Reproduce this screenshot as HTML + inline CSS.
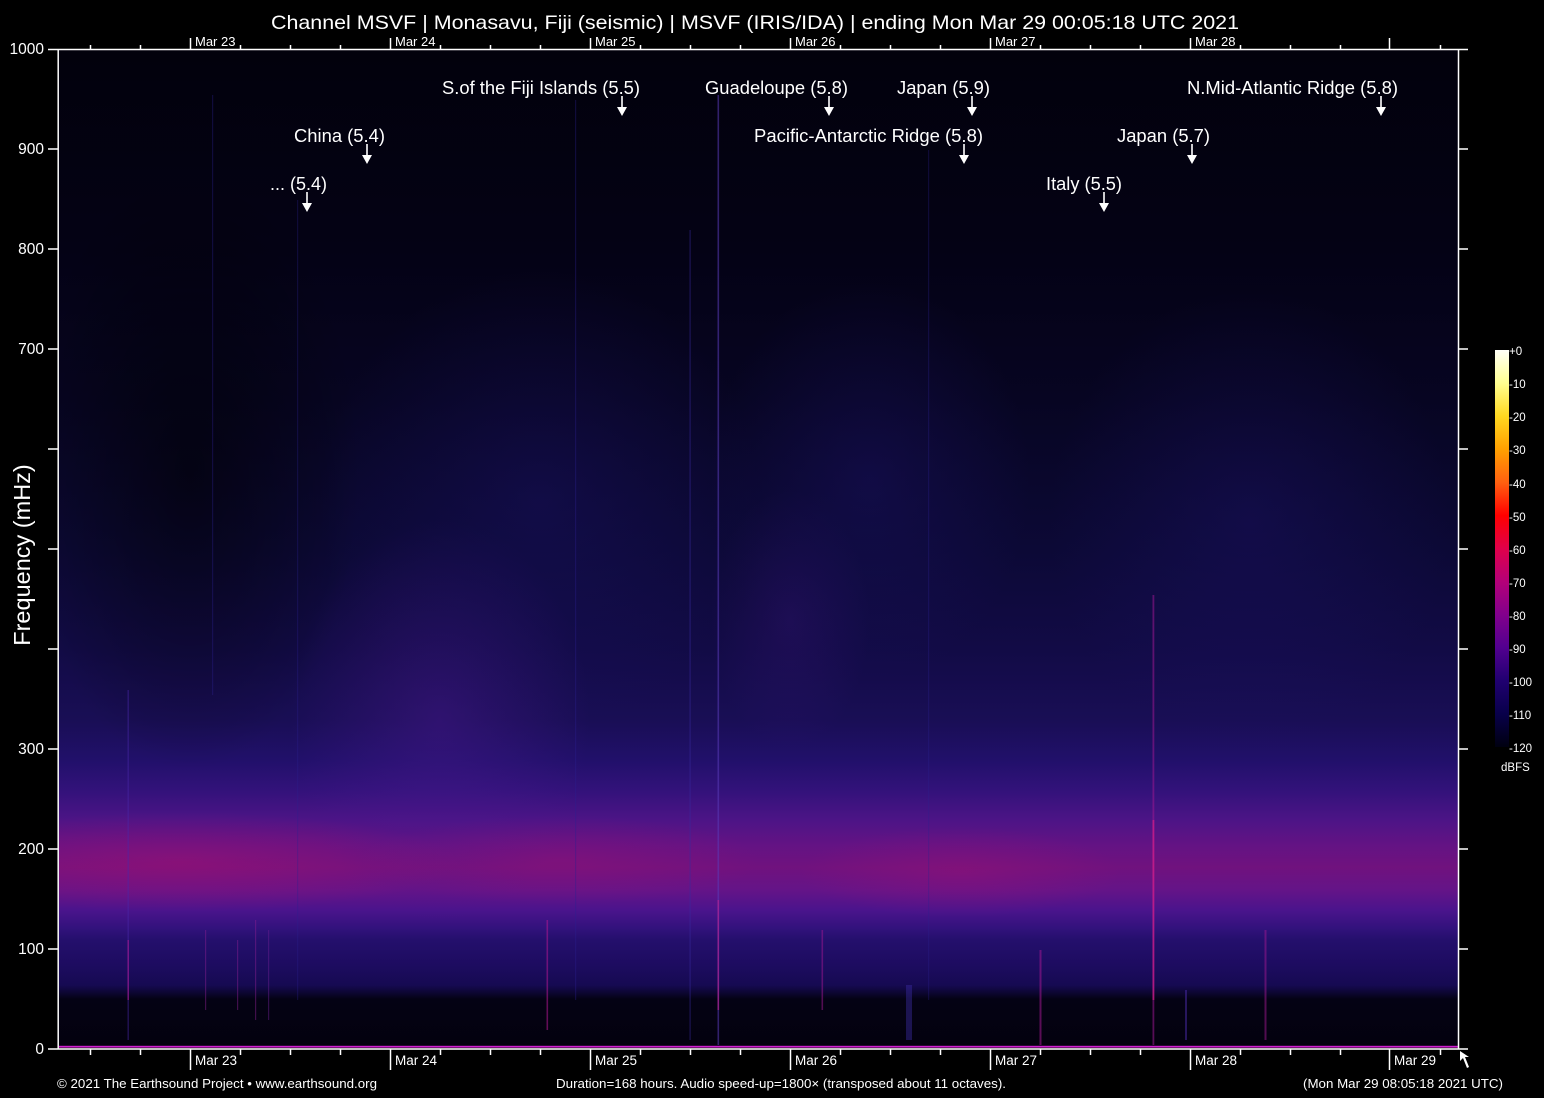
<!DOCTYPE html>
<html><head><meta charset="utf-8"><style>
html,body{margin:0;padding:0;background:#000;}
svg{display:block;}
text{font-family:"Liberation Sans",Arial,sans-serif;fill:#fff;}
</style></head><body>
<svg width="1544" height="1098" viewBox="0 0 1544 1098" xmlns="http://www.w3.org/2000/svg">
<defs>
<clipPath id="pc"><rect x="59" y="50" width="1399" height="998"/></clipPath>
<linearGradient id="bg" x1="0" y1="0" x2="0" y2="1">
<stop offset="0" stop-color="#02010c"/>
<stop offset="0.2" stop-color="#040215"/>
<stop offset="0.351" stop-color="#070522"/>
<stop offset="0.5015" stop-color="#0c0936"/>
<stop offset="0.602" stop-color="#120b46"/>
<stop offset="0.672" stop-color="#190e55"/>
<stop offset="0.712" stop-color="#21106a"/>
<stop offset="0.742" stop-color="#32127a"/>
<stop offset="0.772" stop-color="#4c1486"/>
<stop offset="0.797" stop-color="#631384"/>
<stop offset="0.82" stop-color="#70127e"/>
<stop offset="0.843" stop-color="#641488"/>
<stop offset="0.863" stop-color="#4a148c"/>
<stop offset="0.881" stop-color="#32127c"/>
<stop offset="0.893" stop-color="#240f6c"/>
<stop offset="0.918" stop-color="#1d0c60"/>
<stop offset="0.938" stop-color="#160a52"/>
<stop offset="0.946" stop-color="#0c0630"/>
<stop offset="0.952" stop-color="#040214"/>
<stop offset="1" stop-color="#03010e"/>
</linearGradient>
<radialGradient id="dark"><stop offset="0" stop-color="#000" stop-opacity="0.55"/><stop offset="1" stop-color="#000" stop-opacity="0"/></radialGradient>
<radialGradient id="plume"><stop offset="0" stop-color="#4a1890" stop-opacity="0.45"/><stop offset="1" stop-color="#4a1890" stop-opacity="0"/></radialGradient>
<radialGradient id="haze"><stop offset="0" stop-color="#1c1268" stop-opacity="0.4"/><stop offset="1" stop-color="#1c1268" stop-opacity="0"/></radialGradient>
<radialGradient id="band"><stop offset="0" stop-color="#a81070" stop-opacity="0.45"/><stop offset="1" stop-color="#a81070" stop-opacity="0"/></radialGradient>
<linearGradient id="cb" x1="0" y1="0" x2="0" y2="1">
<stop offset="0" stop-color="#fffff8"/>
<stop offset="0.0833" stop-color="#ffff90"/>
<stop offset="0.1667" stop-color="#ffd820"/>
<stop offset="0.25" stop-color="#ffa000"/>
<stop offset="0.3333" stop-color="#ff6010"/>
<stop offset="0.4167" stop-color="#ff0000"/>
<stop offset="0.5" stop-color="#e0004a"/>
<stop offset="0.5833" stop-color="#b40078"/>
<stop offset="0.6667" stop-color="#82008c"/>
<stop offset="0.75" stop-color="#520090"/>
<stop offset="0.8333" stop-color="#200070"/>
<stop offset="0.9167" stop-color="#08004a"/>
<stop offset="1" stop-color="#000010"/>
</linearGradient>
</defs>
<rect width="1544" height="1098" fill="#000"/>
<g clip-path="url(#pc)">
<rect x="59" y="50" width="1399" height="997" fill="url(#bg)"/>
<ellipse cx="190" cy="470" rx="170" ry="300" fill="url(#dark)"/>
<ellipse cx="440" cy="720" rx="150" ry="200" fill="url(#plume)"/>
<ellipse cx="540" cy="500" rx="220" ry="230" fill="url(#haze)"/>
<ellipse cx="790" cy="620" rx="80" ry="130" fill="url(#plume)" opacity="0.5"/>
<ellipse cx="870" cy="480" rx="160" ry="200" fill="url(#haze)"/>
<ellipse cx="1250" cy="520" rx="200" ry="230" fill="url(#haze)"/>
<ellipse cx="180" cy="862" rx="280" ry="50" fill="url(#band)"/>
<ellipse cx="560" cy="860" rx="200" ry="45" fill="url(#band)" opacity="0.6"/>
<ellipse cx="960" cy="872" rx="160" ry="45" fill="url(#band)" opacity="0.7"/>
<g>
<rect x="717.5" y="95" width="1.6" height="950" fill="#5a3ab8" opacity="0.55"/>
<rect x="717.5" y="900" width="1.6" height="110" fill="#c02090" opacity="0.6"/>
<rect x="689.5" y="230" width="1.2" height="810" fill="#3a2aa0" opacity="0.45"/>
<rect x="1152.5" y="595" width="1.8" height="450" fill="#9a1890" opacity="0.55"/>
<rect x="1152.5" y="820" width="1.8" height="180" fill="#e0208a" opacity="0.6"/>
<rect x="546.5" y="920" width="1.6" height="110" fill="#b01890" opacity="0.55"/>
<rect x="821.5" y="930" width="1.6" height="80" fill="#a01890" opacity="0.5"/>
<rect x="1039.5" y="950" width="2" height="95" fill="#a01890" opacity="0.55"/>
<rect x="1264.5" y="930" width="2" height="110" fill="#a01890" opacity="0.5"/>
<rect x="127.5" y="690" width="1.4" height="350" fill="#4a28a8" opacity="0.45"/>
<rect x="127.5" y="940" width="1.4" height="60" fill="#b01890" opacity="0.6"/>
<rect x="205" y="930" width="1.2" height="80" fill="#8a2090" opacity="0.45"/>
<rect x="237" y="940" width="1.2" height="70" fill="#8a2090" opacity="0.45"/>
<rect x="255" y="920" width="1.2" height="100" fill="#8a2090" opacity="0.45"/>
<rect x="268" y="930" width="1.2" height="90" fill="#6a2090" opacity="0.45"/>
<rect x="212" y="95" width="1.2" height="600" fill="#2a2090" opacity="0.35"/>
<rect x="575" y="100" width="1.2" height="900" fill="#2a2090" opacity="0.35"/>
<rect x="297" y="200" width="1.2" height="800" fill="#2a2090" opacity="0.3"/>
<rect x="906" y="985" width="6" height="55" fill="#3a2aa0" opacity="0.45"/>
<rect x="1185" y="990" width="2" height="50" fill="#4a2aa8" opacity="0.5"/>
<rect x="928" y="150" width="1.2" height="850" fill="#2a2090" opacity="0.3"/>
</g>
<rect x="59" y="1045.8" width="1399" height="1.8" fill="#d020d0"/>
</g>
<g stroke="#fff" stroke-width="1.5" fill="none">
<line x1="48" y1="49.5" x2="1468" y2="49.5"/>
<line x1="48" y1="1049" x2="1468" y2="1049"/>
<line x1="58.2" y1="49" x2="58.2" y2="1049"/>
<line x1="1458.5" y1="49" x2="1458.5" y2="1049"/>
<path d="M48 149H58M48 249H58M48 349H58M48 449H58M48 549H58M48 649H58M48 749H58M48 849H58M48 949H58"/>
<path d="M1458 149H1468M1458 249H1468M1458 349H1468M1458 449H1468M1458 549H1468M1458 649H1468M1458 749H1468M1458 849H1468M1458 949H1468"/>
<path d="M90.5 45V50M140.5 45V50M240.5 45V50M290.5 45V50M340.5 45V50M440.5 45V50M490.5 45V50M540.5 45V50M640.5 45V50M690.5 45V50M740.5 45V50M840.5 45V50M890.5 45V50M940.5 45V50M1040.5 45V50M1090.5 45V50M1140.5 45V50M1240.5 45V50M1290.5 45V50M1340.5 45V50M1440.5 45V50"/>
<path d="M190.5 38V50M390.5 38V50M590.5 38V50M790.5 38V50M990.5 38V50M1190.5 38V50M1389.5 38V50"/>
<path d="M90.5 1049V1055M140.5 1049V1055M240.5 1049V1055M290.5 1049V1055M340.5 1049V1055M440.5 1049V1055M490.5 1049V1055M540.5 1049V1055M640.5 1049V1055M690.5 1049V1055M740.5 1049V1055M840.5 1049V1055M890.5 1049V1055M940.5 1049V1055M1040.5 1049V1055M1090.5 1049V1055M1140.5 1049V1055M1240.5 1049V1055M1290.5 1049V1055M1340.5 1049V1055M1440.5 1049V1055"/>
<path d="M190.5 1049V1070M390.5 1049V1070M590.5 1049V1070M790.5 1049V1070M990.5 1049V1070M1190.5 1049V1070M1389.5 1049V1070"/>
</g>
<polygon points="1460,1051 1460,1061 1463,1058 1467,1068 1469,1067 1465,1057 1469,1057" fill="#fff"/>
<text x="271" y="29" font-size="19.5" textLength="968" lengthAdjust="spacingAndGlyphs">Channel MSVF | Monasavu, Fiji (seismic) | MSVF (IRIS/IDA) | ending Mon Mar 29 00:05:18 UTC 2021</text>
<g font-size="15.5" text-anchor="end">
<text x="44" y="54">1000</text>
<text x="44" y="154">900</text>
<text x="44" y="254">800</text>
<text x="44" y="354">700</text>
<text x="44" y="754">300</text>
<text x="44" y="854">200</text>
<text x="44" y="954">100</text>
<text x="44" y="1054">0</text>
</g>
<text transform="translate(30,555) rotate(-90)" font-size="23.5" text-anchor="middle">Frequency (mHz)</text>
<g font-size="13">
<text x="195" y="46">Mar 23</text>
<text x="395" y="46">Mar 24</text>
<text x="595" y="46">Mar 25</text>
<text x="795" y="46">Mar 26</text>
<text x="995" y="46">Mar 27</text>
<text x="1195" y="46">Mar 28</text>
</g>
<g font-size="13.5">
<text x="195" y="1065">Mar 23</text>
<text x="395" y="1065">Mar 24</text>
<text x="595" y="1065">Mar 25</text>
<text x="795" y="1065">Mar 26</text>
<text x="995" y="1065">Mar 27</text>
<text x="1195" y="1065">Mar 28</text>
<text x="1394" y="1065">Mar 29</text>
</g>
<g font-size="13">
<text x="57" y="1088" textLength="320" lengthAdjust="spacingAndGlyphs">© 2021 The Earthsound Project • www.earthsound.org</text>
<text x="556" y="1088" textLength="450" lengthAdjust="spacingAndGlyphs">Duration=168 hours. Audio speed-up=1800× (transposed about 11 octaves).</text>
<text x="1303" y="1088" textLength="200" lengthAdjust="spacingAndGlyphs">(Mon Mar 29 08:05:18 2021 UTC)</text>
</g>
<g font-size="18.6">
<text x="442" y="94" textLength="198" lengthAdjust="spacingAndGlyphs">S.of the Fiji Islands (5.5)</text>
<text x="705" y="94" textLength="143" lengthAdjust="spacingAndGlyphs">Guadeloupe (5.8)</text>
<text x="897" y="94" textLength="93" lengthAdjust="spacingAndGlyphs">Japan (5.9)</text>
<text x="1187" y="94" textLength="211" lengthAdjust="spacingAndGlyphs">N.Mid-Atlantic Ridge (5.8)</text>
<text x="294" y="142" textLength="91" lengthAdjust="spacingAndGlyphs">China (5.4)</text>
<text x="754" y="142" textLength="229" lengthAdjust="spacingAndGlyphs">Pacific-Antarctic Ridge (5.8)</text>
<text x="1117" y="142" textLength="93" lengthAdjust="spacingAndGlyphs">Japan (5.7)</text>
<text x="270" y="190" textLength="57" lengthAdjust="spacingAndGlyphs">... (5.4)</text>
<text x="1046" y="190" textLength="76" lengthAdjust="spacingAndGlyphs">Italy (5.5)</text>
</g>
<g fill="#fff" stroke="none">
<rect x="621.2" y="96" width="1.6" height="11"/><polygon points="617,107 627,107 622,116"/>
<rect x="828.2" y="96" width="1.6" height="11"/><polygon points="824,107 834,107 829,116"/>
<rect x="971.2" y="96" width="1.6" height="11"/><polygon points="967,107 977,107 972,116"/>
<rect x="1380.2" y="96" width="1.6" height="11"/><polygon points="1376,107 1386,107 1381,116"/>
<rect x="366.2" y="144" width="1.6" height="11"/><polygon points="362,155 372,155 367,164"/>
<rect x="963.2" y="144" width="1.6" height="11"/><polygon points="959,155 969,155 964,164"/>
<rect x="1191.2" y="144" width="1.6" height="11"/><polygon points="1187,155 1197,155 1192,164"/>
<rect x="306.2" y="192" width="1.6" height="11"/><polygon points="302,203 312,203 307,212"/>
<rect x="1103.2" y="192" width="1.6" height="11"/><polygon points="1099,203 1109,203 1104,212"/>
</g>
<rect x="1495" y="350" width="14" height="397" fill="url(#cb)"/>
<g font-size="11.5" fill="#ddd">
<text x="1509" y="355">+0</text>
<text x="1509" y="388">-10</text>
<text x="1509" y="421">-20</text>
<text x="1509" y="454">-30</text>
<text x="1509" y="488">-40</text>
<text x="1509" y="521">-50</text>
<text x="1509" y="554">-60</text>
<text x="1509" y="587">-70</text>
<text x="1509" y="620">-80</text>
<text x="1509" y="653">-90</text>
<text x="1509" y="686">-100</text>
<text x="1509" y="719">-110</text>
<text x="1509" y="752">-120</text>
<text x="1501" y="771">dBFS</text>
</g>
</svg>
</body></html>
